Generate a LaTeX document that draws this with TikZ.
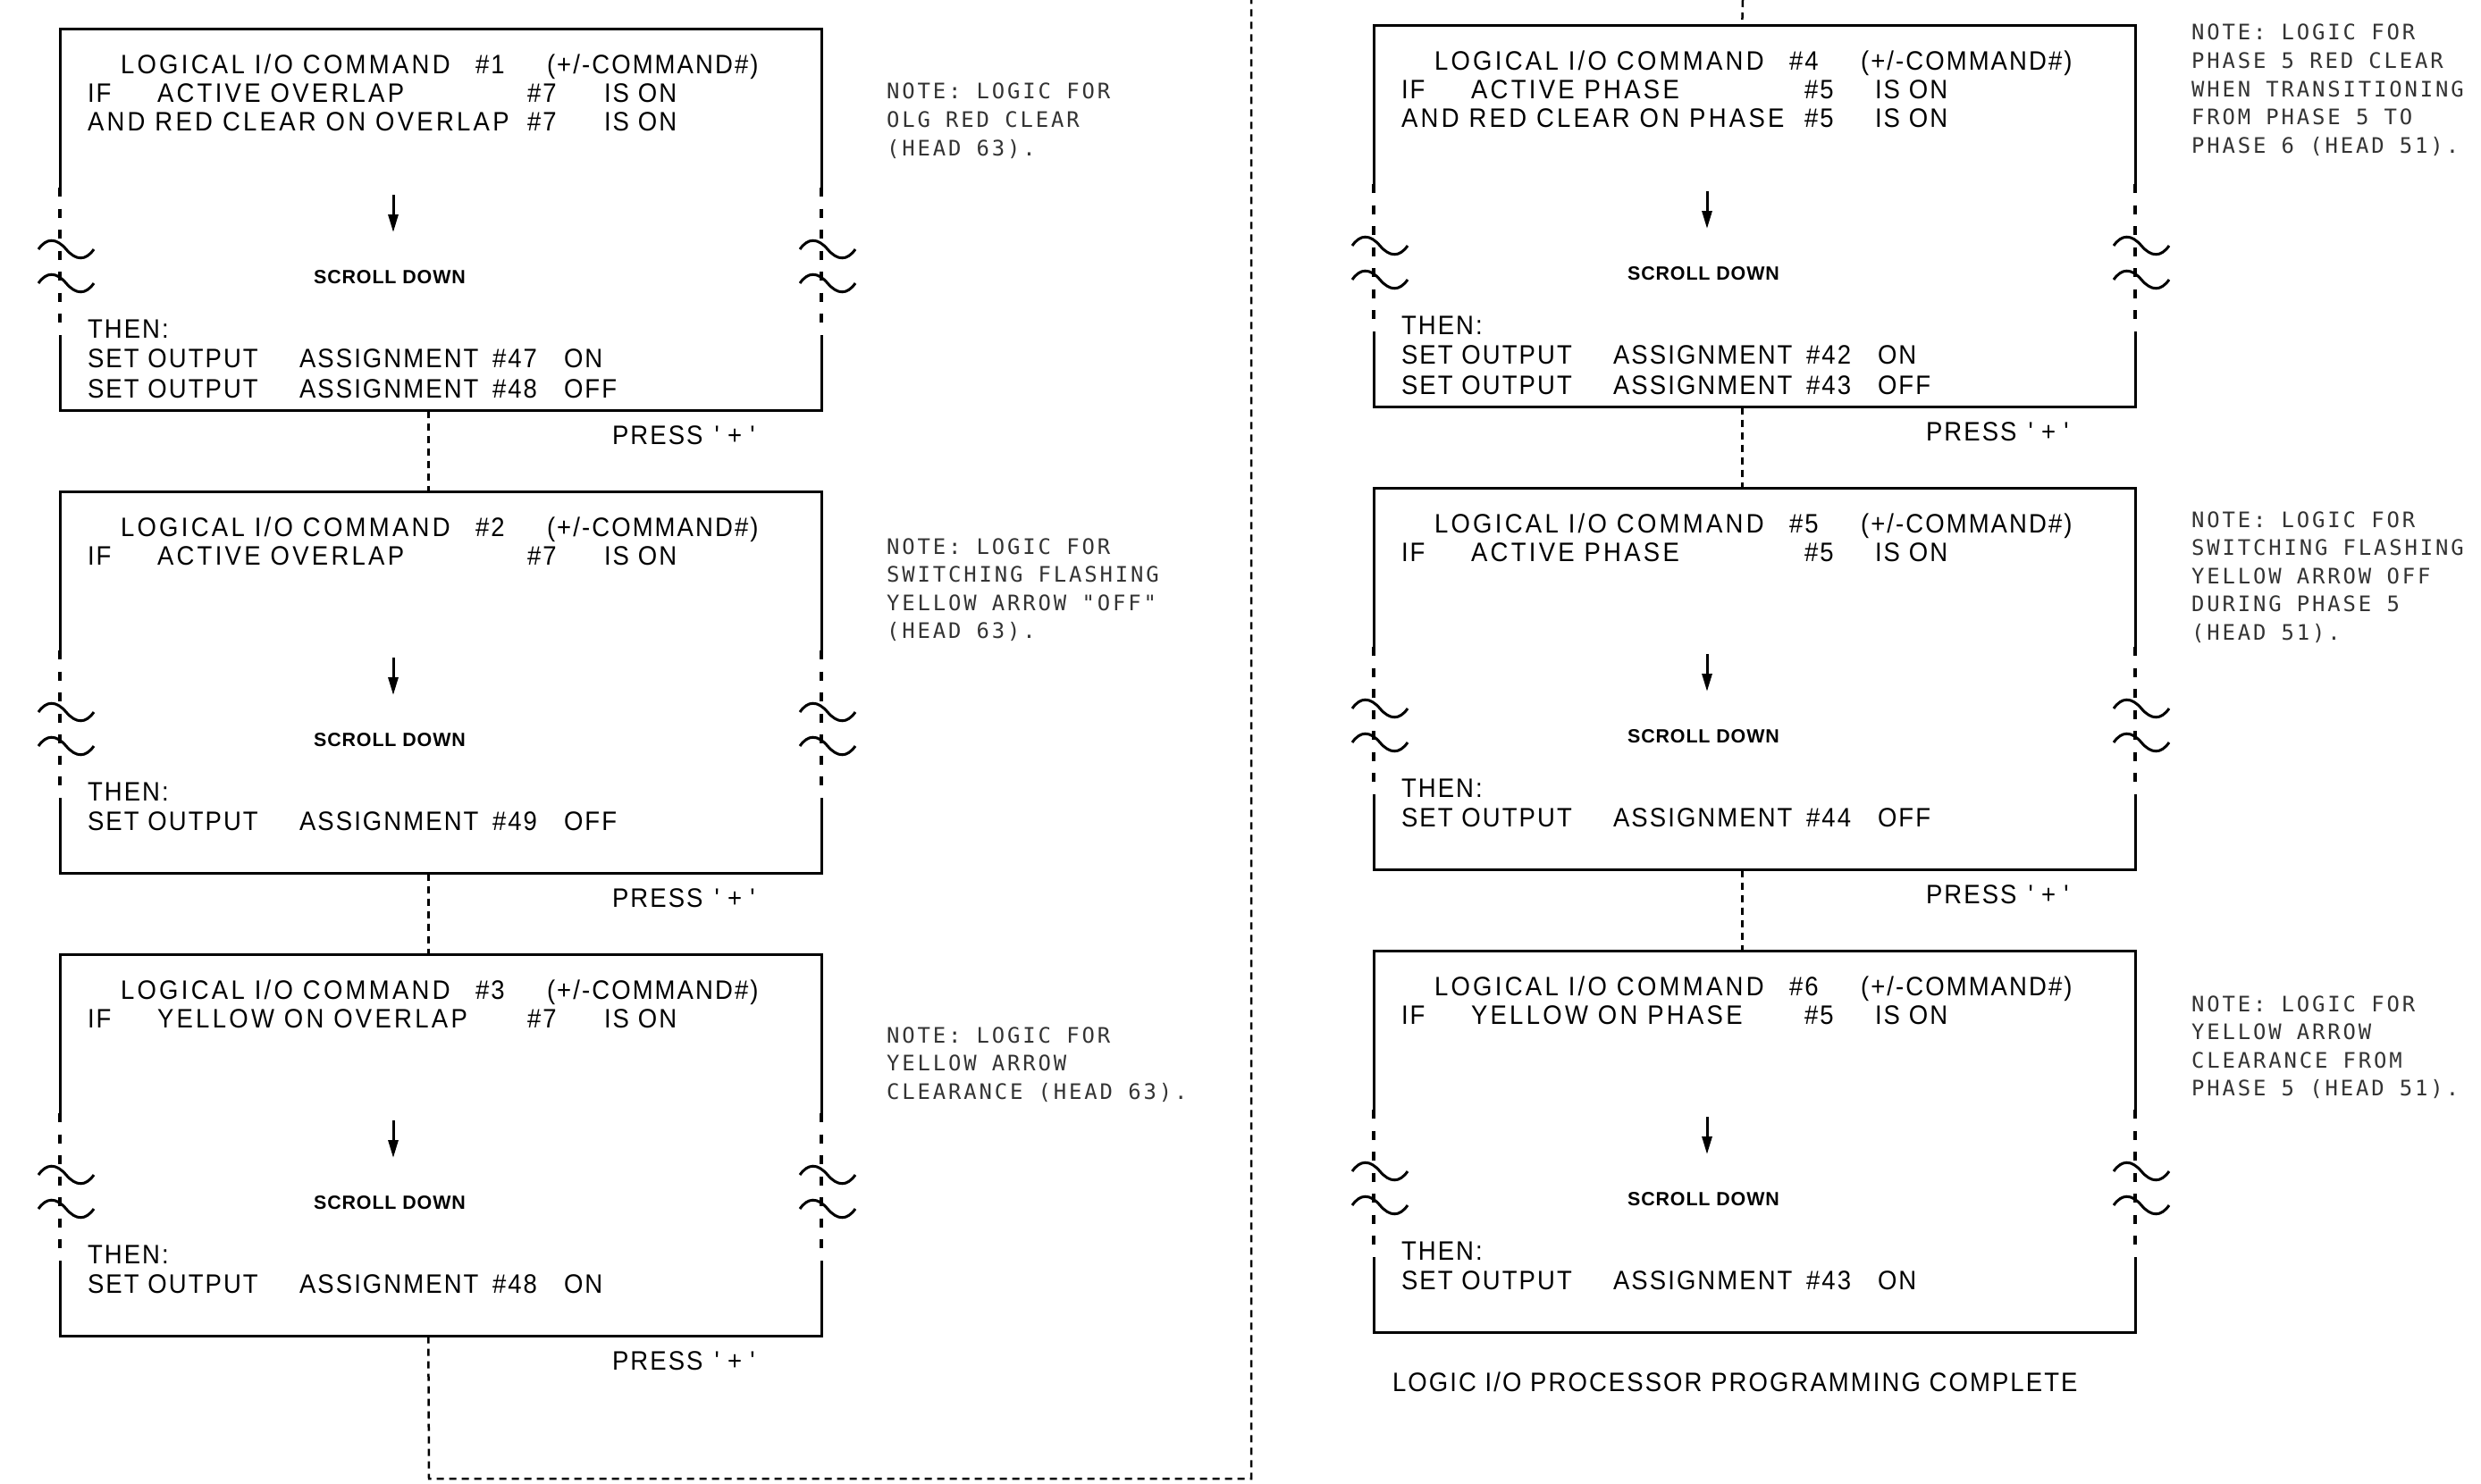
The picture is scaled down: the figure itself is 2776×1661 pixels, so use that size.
\documentclass[tikz,border=0pt]{standalone}
\usepackage{fontspec}
\usetikzlibrary{arrows.meta}
\newfontfamily\mainfam{Liberation Sans}[LetterSpace=7, FakeStretch=0.92]
\newfontfamily\widefam{Liberation Sans}[LetterSpace=11, FakeStretch=0.92]
\newfontfamily\notefam{DejaVu Sans Mono}[LetterSpace=12]
\newfontfamily\scrollfam{Liberation Sans}[LetterSpace=4]
\newcommand\mainf{\mainfam\fontsize{8.5pt}{9pt}\selectfont}
\newcommand\widef{\widefam\fontsize{8.5pt}{9pt}\selectfont}
\newcommand\notef{\notefam\fontsize{6.8pt}{8pt}\selectfont}
\newcommand\scrollf{\scrollfam\bfseries\fontsize{6.1pt}{7pt}\selectfont}
\tikzset{
  frame/.style={rectangle, inner sep=0pt, minimum width=85.2mm, minimum height=42.7mm},
  edge/.style={line width=0.3mm},
  sidedash/.style={line width=0.38mm, dash pattern=on 1mm off 1.35mm},
  conn/.style={line width=0.25mm, dash pattern=on 0.8mm off 0.6mm},
  arr/.style={line width=0.3mm, -{Triangle[length=2mm, width=1.1mm]}},
  txt/.style={font=\mainf, anchor=base west, inner sep=0pt, outer sep=0pt},
  wtxt/.style={txt, font=\widef},
  note/.style={font=\notef, text=black!80, anchor=base west, inner sep=0pt, outer sep=0pt},
  scroll/.style={font=\scrollf, anchor=base, inner sep=0pt, outer sep=0pt}
}
% #1 name, #2 left x, #3 top y, #4 command number
\newcommand{\lbox}[4]{%
  \node[frame] (#1) at ({#2+426},{#3+213.5}) {};
  \draw[edge] ({#2},{#3+178}) -- ({#2},{#3}) -- ({#2+852},{#3}) -- ({#2+852},{#3+178});
  \draw[edge] ({#2},{#3+343}) -- ({#2},{#3+427}) -- ({#2+852},{#3+427}) -- ({#2+852},{#3+343});
  \draw[sidedash] ({#2},{#3+178}) -- ({#2},{#3+330});
  \draw[sidedash] ({#2+852},{#3+178}) -- ({#2+852},{#3+330});
  \foreach \xx in {#2,#2+852} \foreach \yy in {#3+247,#3+285} {
    \draw[edge] ({\xx-24},{\yy}) .. controls ({\xx-15},{\yy-13}) and ({\xx-4},{\yy-13}) .. ({\xx+7},{\yy})
      .. controls ({\xx+18},{\yy+13}) and ({\xx+29},{\yy+13}) .. ({\xx+38},{\yy});
  }
  \coordinate (#1-a1) at ({#2+373},{#3+186});
  \coordinate (#1-a2) at ({#2+373},{#3+228});
  \draw[arr] (#1-a1) -- (#1-a2);
  \node[scroll] (#1-sd) at ({#2+369},{#3+285.5}) {SCROLL DOWN};
  \node[wtxt] (#1-t1) at ({#2+68},{#3+50}) {LOGICAL I/O COMMAND};
  \node[txt] (#1-t2) at ({#2+465},{#3+50}) {\##4};
  \node[txt] (#1-t3) at ({#2+545},{#3+50}) {(+/-COMMAND\#)};
  \node[txt] (#1-th) at ({#2+31},{#3+346}) {THEN:};
}
% #1 name, #2 L, #3 baseline, #4 first, #5 second, #6 num, #7 hash x, #8 IS x
\newcommand{\ifrow}[8]{%
  \node[txt] (#1-a) at ({#2+31},{#3}) {#4};
  \node[wtxt] (#1-b) at ({#2+109},{#3}) {#5};
  \node[txt] (#1-c) at ({#2+#7},{#3}) {\##6};
  \node[txt] (#1-d) at ({#2+#8},{#3}) {IS ON};
}
% #1 name, #2 L, #3 baseline, #4 text, #5 num, #6 hash x, #7 IS x
\newcommand{\androw}[7]{%
  \node[wtxt] (#1-a) at ({#2+31},{#3}) {#4};
  \node[txt] (#1-c) at ({#2+#6},{#3}) {\##5};
  \node[txt] (#1-d) at ({#2+#7},{#3}) {IS ON};
}
% #1 name, #2 L, #3 baseline, #4 num, #5 state
\newcommand{\setrow}[5]{%
  \node[txt] (#1-a) at ({#2+31},{#3}) {SET OUTPUT};
  \node[txt] (#1-b) at ({#2+268},{#3}) {ASSIGNMENT};
  \node[txt] (#1-c) at ({#2+484},{#3}) {\##4};
  \node[txt] (#1-d) at ({#2+564},{#3}) {#5};
}
\newcommand{\press}[3]{%
  \node[txt] (#1) at ({#2+618},{#3+465}) {PRESS\hspace{1.3mm}\textquotesingle\hspace{0.9mm}+\hspace{0.9mm}\textquotesingle};
}
\newcommand{\notes}[4]{%
  \foreach \ntext [count=\nidx] in {#4} {
    \node[note] (#1-\nidx) at ({#2},{#3+(\nidx-1)*31.5}) {\ntext};
  }
}
\begin{document}
\begin{tikzpicture}[x=0.1mm,y=-0.1mm]
\useasboundingbox (0,0) rectangle (2776,1661);

% left column
\lbox{b1}{67}{32}{1}
\ifrow{b1r2}{67}{114}{IF}{ACTIVE OVERLAP}{7}{523}{609}
\androw{b1r3}{67}{146}{AND RED CLEAR ON OVERLAP}{7}{523}{609}
\setrow{b1s1}{67}{411}{47}{ON}
\setrow{b1s2}{67}{445}{48}{OFF}
\press{b1p}{67}{32}

\lbox{b2}{67}{550}{2}
\ifrow{b2r2}{67}{632}{IF}{ACTIVE OVERLAP}{7}{523}{609}
\setrow{b2s1}{67}{929}{49}{OFF}
\press{b2p}{67}{550}

\lbox{b3}{67}{1068}{3}
\ifrow{b3r2}{67}{1150}{IF}{YELLOW ON OVERLAP}{7}{523}{609}
\setrow{b3s1}{67}{1447}{48}{ON}
\press{b3p}{67}{1068}

% right column
\lbox{b4}{1537}{28}{4}
\ifrow{b4r2}{1537}{110}{IF}{ACTIVE PHASE}{5}{482}{561}
\androw{b4r3}{1537}{142}{AND RED CLEAR ON PHASE}{5}{482}{561}
\setrow{b4s1}{1537}{407}{42}{ON}
\setrow{b4s2}{1537}{441}{43}{OFF}
\press{b4p}{1537}{28}

\lbox{b5}{1537}{546}{5}
\ifrow{b5r2}{1537}{628}{IF}{ACTIVE PHASE}{5}{482}{561}
\setrow{b5s1}{1537}{925}{44}{OFF}
\press{b5p}{1537}{546}

\lbox{b6}{1537}{1064}{6}
\ifrow{b6r2}{1537}{1146}{IF}{YELLOW ON PHASE}{5}{482}{561}
\setrow{b6s1}{1537}{1443}{43}{ON}

\node[txt] (done) at (1558,1557) {LOGIC I/O PROCESSOR PROGRAMMING COMPLETE};

% connectors
\draw[conn] ([xshift=41.3mm]b1.south west) -- ([xshift=41.3mm]b2.north west);
\draw[conn] ([xshift=41.3mm]b2.south west) -- ([xshift=41.3mm]b3.north west);
\coordinate (lp1) at (480,1655);
\coordinate (lp2) at (1400,1655);
\coordinate (lp3) at (1400,0);
\coordinate (lp4) at (1950,0);
\draw[conn] ([xshift=41.3mm]b3.south west) -- (lp1) -- (lp2) -- (lp3);
\draw[conn] (lp4) -- ([xshift=41.3mm]b4.north west);
\draw[conn] ([xshift=41.3mm]b4.south west) -- ([xshift=41.3mm]b5.north west);
\draw[conn] ([xshift=41.3mm]b5.south west) -- ([xshift=41.3mm]b6.north west);

% notes
\notes{n1}{992}{111}{{NOTE: LOGIC FOR},{OLG RED CLEAR},{(HEAD 63).}}
\notes{n2}{992}{620}{{NOTE: LOGIC FOR},{SWITCHING FLASHING},{YELLOW ARROW "OFF"},{(HEAD 63).}}
\notes{n3}{992}{1167}{{NOTE: LOGIC FOR},{YELLOW ARROW},{CLEARANCE (HEAD 63).}}
\notes{n4}{2452}{45}{{NOTE: LOGIC FOR},{PHASE 5 RED CLEAR},{WHEN TRANSITIONING},{FROM PHASE 5 TO},{PHASE 6 (HEAD 51).}}
\notes{n5}{2452}{590}{{NOTE: LOGIC FOR},{SWITCHING FLASHING},{YELLOW ARROW OFF},{DURING PHASE 5},{(HEAD 51).}}
\notes{n6}{2452}{1132}{{NOTE: LOGIC FOR},{YELLOW ARROW},{CLEARANCE FROM},{PHASE 5 (HEAD 51).}}
\end{tikzpicture}
\end{document}
